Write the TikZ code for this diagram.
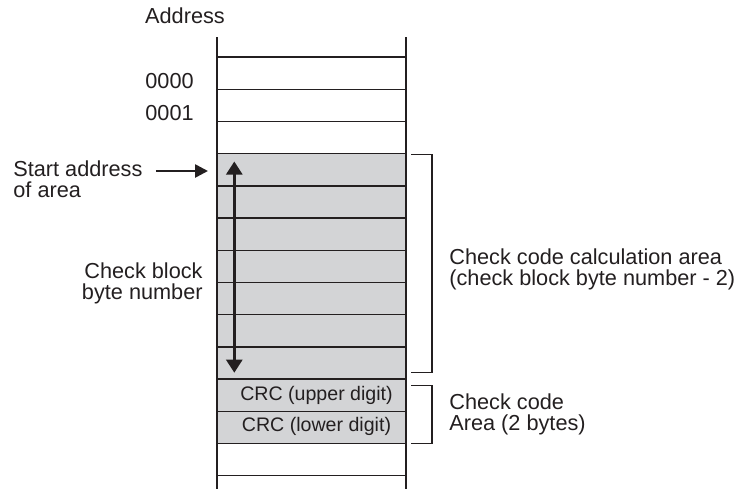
\documentclass[tikz,border=0pt]{standalone}
\usepackage{fontspec}
\setmainfont{Liberation Sans}
\usetikzlibrary{arrows.meta,positioning,calc}

\definecolor{areagray}{RGB}{211,212,214}
\definecolor{ink}{RGB}{35,31,32}

\tikzset{
    row/.style={draw=ink, line width=0.7pt, minimum width=94.5pt, minimum height=16.1pt, inner sep=0pt, outer sep=0pt},
    label/.style={text=ink, inner sep=0pt, font=\fontsize{10.85}{10.4}\selectfont},
    pointer/.style={draw=ink, line width=1.3pt},
    bracket/.style={draw=ink, line width=0.7pt}
}

\begin{document}
\begin{tikzpicture}[x=0.5pt, y=-0.5pt]
    \useasboundingbox (0,0) rectangle (740,489);

    % Memory rows
    \foreach \i in {0,1,2,12} {
        \node[row] (r\i) at (311.5, {73.1+32.2*\i}) {};
    }
    \foreach \i in {3,...,11} {
        \node[row, fill=areagray] (r\i) at (311.5, {73.1+32.2*\i}) {};
    }
    \draw[draw=ink, line width=0.7pt] (r0.north west) -- ++(0,-20);
    \draw[draw=ink, line width=0.7pt] (r0.north east) -- ++(0,-20);
    \draw[draw=ink, line width=0.7pt] (r12.south west) -- ++(0,13);
    \draw[draw=ink, line width=0.7pt] (r12.south east) -- ++(0,13);

    % CRC bytes
    \node[label, font=\fontsize{9.8}{10}\selectfont] (crchi) at ($(r10)+(5,0)$) {CRC (upper digit)};
    \node[label, font=\fontsize{9.8}{10}\selectfont] (crclo) at ($(r11)+(5,-1)$) {CRC (lower digit)};

    % Addresses
    \node[label] (addr) at (185,16) {Address};
    \node[label, anchor=base west] (a0) at (145,88) {0000};
    \node[label, anchor=base west] (a1) at (145,120) {0001};

    % Start address (base = last line)
    \coordinate (areastart) at (208,171);
    \node[label, anchor=base west, align=left] (start) at (13,197.5) {Start address\\of area};
    \draw[pointer, -{Triangle[length=6.5pt, width=6.5pt]}] ($(start.east |- areastart)+(13,0)$) -- (areastart);

    % Block length
    \coordinate (blocktop) at (234.3,161.5);
    \coordinate (blockbot) at (234.3,372.7);
    \draw[pointer, {Triangle[length=6.5pt, width=8pt]}-{Triangle[length=6.5pt, width=8pt]}] (blocktop) -- (blockbot);
    \node[label, anchor=base east, align=right] (block) at (203,299) {Check block\\byte number};

    % Brackets
    \draw[bracket] (411,154.3) -- ++(21,0) |- (411,372.3);
    \draw[bracket] (411,385.7) -- ++(21,0) |- (411,443.3);
    \node[label, anchor=base west, align=left] (calc) at (449,285) {Check code calculation area\\(check block byte number - 2)};
    \node[label, anchor=base west, align=left] (code) at (449,430) {Check code\\Area (2 bytes)};
\end{tikzpicture}
\end{document}
